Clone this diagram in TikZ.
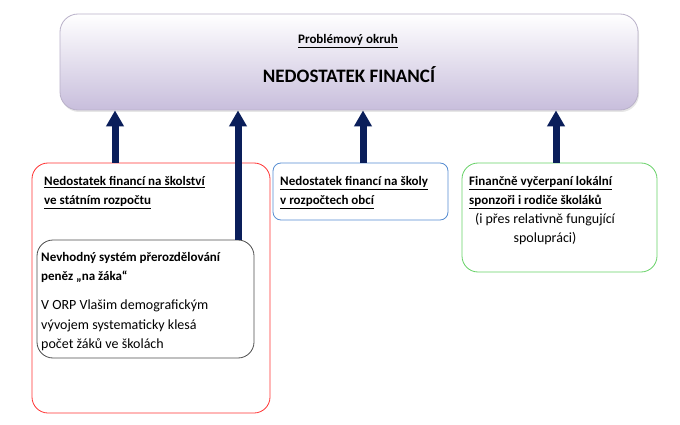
\documentclass[tikz,border=0pt]{standalone}
\usepackage{fontspec}
\setmainfont{Carlito}
\usetikzlibrary{arrows.meta,shadows}
\definecolor{navy}{RGB}{10,30,90}
\definecolor{lav}{RGB}{200,190,220}
\tikzset{
  up/.style={navy,line width=7pt,-{Triangle[length=16pt,width=17pt]}},
  box/.style={draw,rounded corners=16pt,line width=0.8pt},
  txt/.style={anchor=north west,align=left,font=\fontsize{14}{19.5}\selectfont,inner sep=0pt},
  btxt/.style={txt,font=\fontsize{13}{19.5}\selectfont\bfseries},
}
\begin{document}
\begin{tikzpicture}[x=1pt,y=-1pt]
\useasboundingbox (0,0) rectangle (680,425);
\node[box,draw=lav!80!gray,rounded corners=18pt,top color=white,bottom color=lav,minimum width=578pt,minimum height=96pt,drop shadow={opacity=0.2,shadow xshift=1pt,shadow yshift=-2pt}] (top) at (349,62) {};
\node[font=\fontsize{13}{15}\selectfont\bfseries] (t1) at (348,41) {\underline{Problémový okruh}};
\node[font=\fontsize{19}{21}\selectfont\bfseries] (t2) at (349,75) {NEDOSTATEK FINANCÍ};
\node[box,draw=red!80,minimum width=238pt,minimum height=250pt] (red) at (151,288) {};
\node[box,draw=black!70,minimum width=217pt,minimum height=118pt] (blk) at (145.5,299) {};
\node[box,draw=cyan!50!blue!70,rounded corners=8pt,minimum width=175pt,minimum height=57pt] (blue) at (360.5,191.5) {};
\node[box,draw=green!70!black!60,minimum width=195pt,minimum height=109pt] (grn) at (559.5,217.5) {};
\node[btxt] (a1) at (44,176) {\underline{Nedostatek financí na školství}\\ \underline{ve státním rozpočtu}};
\node[btxt] (a2) at (41,252) {Nevhodný systém přerozdělování\\peněz „na žáka“};
\node[txt] (a3) at (41,300) {V ORP Vlašim demografickým\\ vývojem systematicky klesá\\počet žáků ve školách};
\node[btxt] (b1) at (280,176) {\underline{Nedostatek financí na školy}\\\underline{v rozpočtech obcí}};
\node[btxt] (c1) at (469,176) {\underline{Finančně vyčerpaní lokální}\\\underline{sponzoři i rodiče školáků}};
\node[txt,align=center,anchor=north] (c2) at (545,213) {(i přes relativně fungující\\spolupráci)};
\draw[up] (red.north -| 115,0) -- (top.south -| 115,0);
\draw[up] (blk.north -| 238,0) -- (top.south -| 238,0);
\draw[up] (blue.north -| 363,0) -- (top.south -| 363,0);
\draw[up] (grn.north -| 556,0) -- (top.south -| 556,0);
\end{tikzpicture}
\end{document}
